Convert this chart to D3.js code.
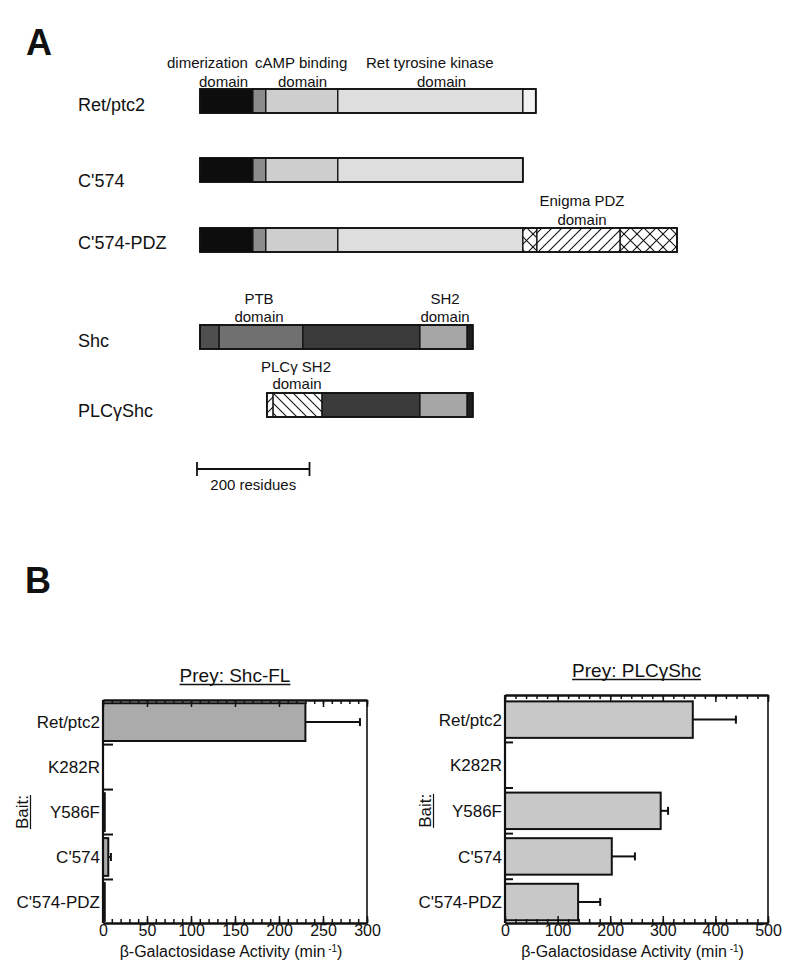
<!DOCTYPE html>
<html><head><meta charset="utf-8">
<script src="https://cdn.jsdelivr.net/npm/d3@7"></script>
<style>
body{margin:0;background:#fff}
text{font-family:"Liberation Sans",Arial,Helvetica,sans-serif;fill:#111}
</style>
</head><body>
<svg id="c" width="800" height="970"></svg>
<script>
// ---------------- Panel A data (residue boundaries) ----------------
const constructs = ["Ret/ptc2", "C'574", "C'574-PDZ", "Shc", "PLCγShc"];
const retSegs  = [[0,94,"dimer"],[94,117,"link"],[117,245,"camp"],[245,574,"kinase"],[574,597,"tail"]];
const c574Segs = [[0,94,"dimer"],[94,117,"link"],[117,245,"camp"],[245,574,"kinase"]];
const pdzSegs  = [[0,94,"dimer"],[94,117,"link"],[117,245,"camp"],[245,574,"kinase"],[574,599,"cross"],[599,747,"fwd"],[747,848,"cross"]];
const shcSegs  = [[0,34,"shcN"],[34,183,"ptb"],[183,391,"shcMid"],[391,475,"sh2"],[475,485,"shcEnd"]];
const plcSegs  = [[119,130,"fwd"],[130,217,"back"],[217,391,"shcMid"],[391,475,"sh2"],[475,485,"shcEnd"]];
const scaleBarResidues = 200;

// ---------------- Panel B data ----------------
const baits = ["Ret/ptc2", "K282R", "Y586F", "C'574", "C'574-PDZ"];
const shcFL    = [230, 0, 2, 6, 2];
const shcFLErr = [62, 0, 0, 3, 0];
const plcShc    = [357, 0, 296, 203, 139];
const plcShcErr = [82, 0, 14, 44, 42];
const shcTicks = [0, 50, 100, 150, 200, 250, 300];
const plcTicks = [0, 100, 200, 300, 400, 500];

const svg = d3.select("#c");
const defs = svg.append("defs");
function hatch(id, size, paths){
  const p = defs.append("pattern").attr("id", id).attr("patternUnits","userSpaceOnUse")
    .attr("width", size).attr("height", size);
  p.append("rect").attr("width", size).attr("height", size).attr("fill","#fff");
  paths.forEach(d => p.append("path").attr("d", d).attr("stroke","#111").attr("stroke-width",1.1).attr("fill","none"));
}
hatch("fwd", 10, ["M-2,2L2,-2","M0,10L10,0","M8,12L12,8"]);
hatch("back", 10, ["M-2,8L2,12","M0,0L10,10","M8,-2L12,2"]);
hatch("cross", 13, ["M-2,2L2,-2","M0,13L13,0","M11,15L15,11","M-2,11L2,15","M0,0L13,13","M11,-2L15,2"]);

const fills = {
  dimer:"#0d0d0d", link:"#8c8c8c", camp:"#cecece", kinase:"#dedede", tail:"#f2f2f2",
  shcN:"#4f4f4f", ptb:"#707070", shcMid:"#3b3b3b", sh2:"#a6a6a6", shcEnd:"#1e1e1e",
  fwd:"url(#fwd)", back:"url(#back)", cross:"url(#cross)"
};

// residue -> px
const res = d3.scaleLinear().domain([0, 200]).range([200, 312.5]);

// Panel letters
svg.append("text").attr("x",26).attr("y",55).attr("font-size",36).attr("font-weight","bold").text("A");
svg.append("text").attr("x",25).attr("y",593).attr("font-size",36).attr("font-weight","bold").text("B");

const rowTop = [89, 158, 228, 325, 393];
const rowLabelY = [111, 187, 249, 347, 417];
const segsByRow = [retSegs, c574Segs, pdzSegs, shcSegs, plcSegs];
const gA = svg.append("g");
constructs.forEach((name, i) => {
  gA.append("text").attr("x",78).attr("y",rowLabelY[i]).attr("font-size",18).text(name);
  const segs = segsByRow[i];
  const g = gA.append("g");
  g.selectAll("rect").data(segs).join("rect")
    .attr("x", d => res(d[0])).attr("y", rowTop[i])
    .attr("width", d => res(d[1]) - res(d[0])).attr("height", 24)
    .attr("fill", d => fills[d[2]]).attr("stroke","#111").attr("stroke-width",1.3);
  g.append("rect").attr("x", res(segs[0][0])).attr("y", rowTop[i])
    .attr("width", res(segs[segs.length-1][1]) - res(segs[0][0])).attr("height",24)
    .attr("fill","none").attr("stroke","#111").attr("stroke-width",1.8);
});

// domain annotations
const notes = [
  ["dimerization",167,68,"start"],["domain",199,87,"start"],
  ["cAMP binding",255,68,"start"],["domain",278,87,"start"],
  ["Ret tyrosine kinase",366,68,"start"],["domain",417,87,"start"],
  ["Enigma PDZ",582,206,"middle"],["domain",582,225,"middle"],
  ["PTB",259,304,"middle"],["domain",259,322,"middle"],
  ["SH2",445,304,"middle"],["domain",445,322,"middle"],
  ["PLCγ SH2",296,372,"middle"],["domain",297,389,"middle"]
];
notes.forEach(n => gA.append("text").attr("x",n[1]).attr("y",n[2]).attr("font-size",15)
  .attr("text-anchor",n[3]).text(n[0]));

// scale bar
const sb0 = 197, sbLen = res(scaleBarResidues) - res(0);
gA.append("line").attr("x1",sb0).attr("x2",sb0+sbLen).attr("y1",469).attr("y2",469).attr("stroke","#111").attr("stroke-width",1.8);
[sb0, sb0+sbLen].forEach(x => gA.append("line").attr("x1",x).attr("x2",x).attr("y1",462).attr("y2",476).attr("stroke","#111").attr("stroke-width",1.8));
gA.append("text").attr("x",sb0+sbLen/2).attr("y",490).attr("font-size",15).attr("text-anchor","middle").text("200 residues");

// ---------------- Panel B charts ----------------
function drawChart(cfg){
  const g = svg.append("g");
  const x = d3.scaleLinear().domain([0, cfg.max]).range([cfg.left, cfg.right]);
  const y = d3.scaleBand().domain(baits).range([cfg.top, cfg.bottom])
    .paddingInner(cfg.pi).paddingOuter(cfg.po).align(cfg.align);
  const bw = y.bandwidth();

  // bars
  g.selectAll("rect.bar").data(baits.map((b,i)=>({b, v:cfg.values[i], e:cfg.errs[i]})).filter(d=>d.v>0))
    .join("rect").attr("class","bar")
    .attr("x", x(0)).attr("y", d => y(d.b)).attr("width", d => x(d.v)-x(0)).attr("height", bw)
    .attr("fill", cfg.fill).attr("stroke","#111").attr("stroke-width",2);
  // error bars
  baits.forEach((b,i) => {
    const v = cfg.values[i], e = cfg.errs[i];
    if (e <= 0) return;
    const cy = y(b) + bw/2;
    g.append("line").attr("x1",x(v)).attr("x2",x(v+e)).attr("y1",cy).attr("y2",cy).attr("stroke","#111").attr("stroke-width",2);
    g.append("line").attr("x1",x(v+e)).attr("x2",x(v+e)).attr("y1",cy-4).attr("y2",cy+4).attr("stroke","#111").attr("stroke-width",2);
  });

  // top axis (inside ticks, no labels)
  const minorVals = d3.range(0, cfg.max + 0.001, cfg.minor);
  const top = g.append("g").attr("transform",`translate(0,${cfg.top})`);
  top.call(d3.axisTop(x).tickValues(minorVals).tickSize(-4).tickSizeOuter(0).tickFormat(""));
  top.append("g").call(d3.axisTop(x).tickValues(cfg.ticks).tickSize(-7).tickSizeOuter(0).tickFormat(""));
  // bottom axis
  const bot = g.append("g").attr("transform",`translate(0,${cfg.bottom})`);
  bot.call(d3.axisBottom(x).tickValues(minorVals).tickSize(-4).tickSizeOuter(0).tickFormat(""));
  bot.append("g").call(d3.axisBottom(x).tickValues(cfg.ticks).tickSize(-7).tickSizeOuter(0).tickPadding(2))
    .selectAll("text").attr("font-size",16).attr("fill","#111").attr("font-family","Liberation Sans, Arial, sans-serif");
  g.selectAll(".domain").attr("stroke","#111").attr("stroke-width",2);
  g.selectAll(".tick line").attr("stroke","#111").attr("stroke-width",1.5);

  // left & right frame
  g.append("line").attr("x1",cfg.left).attr("x2",cfg.left).attr("y1",cfg.top).attr("y2",cfg.bottom).attr("stroke","#111").attr("stroke-width",2.2);
  g.append("line").attr("x1",cfg.right).attr("x2",cfg.right).attr("y1",cfg.top).attr("y2",cfg.bottom).attr("stroke","#111").attr("stroke-width",1.6);

  // category boundary ticks
  const step = y.step();
  baits.slice(0, -1).forEach(b => {
    const yy = y(b) + bw + (step - bw)/2;
    g.append("line").attr("x1",cfg.left).attr("x2",cfg.left+cfg.tickLen).attr("y1",yy).attr("y2",yy).attr("stroke","#111").attr("stroke-width",2);
  });

  // category labels
  baits.forEach(b => g.append("text").attr("x",cfg.left-3).attr("y",y(b)+bw/2).attr("dy","0.36em")
    .attr("text-anchor","end").attr("font-size",17).text(b));

  // Bait label (rotated, underlined)
  const bl = g.append("g").attr("transform",`translate(${cfg.baitX},${(y("Y586F")+bw/2)}) rotate(-90)`);
  const bt = bl.append("text").attr("text-anchor","middle").attr("font-size",17).text("Bait:");
  const bwid = bt.node().getComputedTextLength();
  bl.append("line").attr("x1",-bwid/2).attr("x2",bwid/2).attr("y1",2.5).attr("y2",2.5).attr("stroke","#111").attr("stroke-width",1.2);

  // title (underlined)
  const cx = (cfg.left + cfg.right)/2;
  const tt = g.append("text").attr("x",cx).attr("y",cfg.top-18).attr("text-anchor","middle").attr("font-size",19).text(cfg.title);
  const tw = tt.node().getComputedTextLength();
  g.append("line").attr("x1",cx-tw/2).attr("x2",cx+tw/2).attr("y1",cfg.top-15.5).attr("y2",cfg.top-15.5).attr("stroke","#111").attr("stroke-width",1.3);

  // axis title
  const at = g.append("text").attr("x",cx - 4).attr("y",cfg.bottom+34).attr("text-anchor","middle").attr("font-size",16);
  at.append("tspan").text("β-Galactosidase Activity (min");
  at.append("tspan").attr("dy",-5).attr("font-size",10).text(" -1");
  at.append("tspan").attr("dy",5).text(")");
}

drawChart({left:103, right:367, top:700, bottom:923, max:300, ticks:shcTicks, minor:10,
  values:shcFL, errs:shcFLErr, fill:"#ababab", title:"Prey: Shc-FL",
  pi:0.16, po:0.06, align:0.6, tickLen:10, baitX:28});
drawChart({left:505, right:768, top:695, bottom:923, max:500, ticks:plcTicks, minor:20,
  values:plcShc, errs:plcShcErr, fill:"#c8c8c8", title:"Prey: PLCγShc",
  pi:0.2, po:0.1, align:0.7, tickLen:8, baitX:431});
</script>
</body></html>
